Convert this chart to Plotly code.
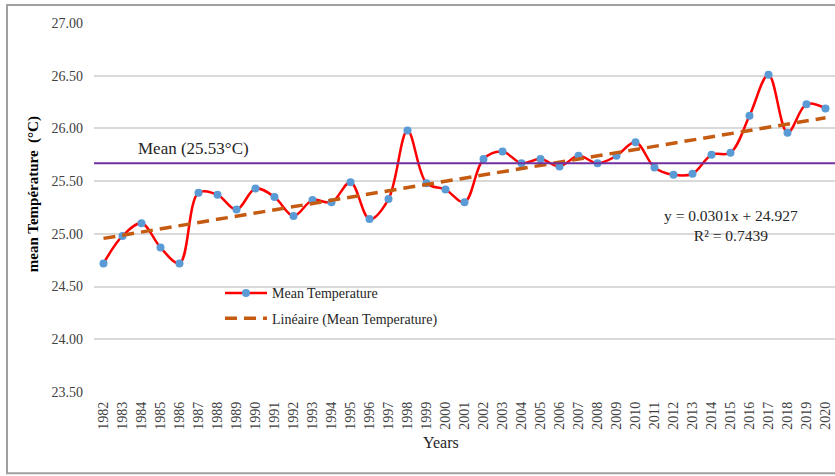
import plotly.graph_objects as go

# ---- data ----
years = [str(y) for y in range(1982, 2021)]
mean_temp = [24.72, 24.98, 25.10, 24.87, 24.72, 25.39, 25.37, 25.23, 25.43, 25.35,
             25.17, 25.32, 25.30, 25.49, 25.14, 25.33, 25.98, 25.48, 25.42, 25.30,
             25.71, 25.78, 25.67, 25.71, 25.64, 25.74, 25.67, 25.74, 25.87, 25.63,
             25.56, 25.57, 25.75, 25.77, 26.12, 26.51, 25.96, 26.23, 26.19]
trend_slope = 0.0301
trend_intercept = 24.927
r_squared = 0.7439
mean_line_value = 25.67
mean_label = "Mean (25.53°C)"
y_ticks = [23.5, 24.0, 24.5, 25.0, 25.5, 26.0, 26.5, 27.0]

trend = [trend_slope * (i + 1) + trend_intercept for i in range(len(years))]

FONT = "Liberation Serif, Times New Roman, serif"

fig = go.Figure()
fig.add_trace(go.Scatter(
    x=years, y=mean_temp, mode="lines+markers", name="Mean Temperature",
    line=dict(color="#FF0000", width=2.5, shape="spline", smoothing=1.0),
    marker=dict(color="#5B9BD5", size=8), legendgroup="a"))
fig.add_trace(go.Scatter(
    x=years, y=trend, mode="lines", name="Linéaire (Mean Temperature)",
    line=dict(color="#C55A11", width=3.5, dash="12px,7px"), legendgroup="b"))

fig.add_shape(type="line", xref="paper", yref="y", x0=0, x1=1,
              y0=mean_line_value, y1=mean_line_value,
              line=dict(color="#7030A0", width=2))
# outer chart border
fig.add_shape(type="rect", xref="paper", yref="paper",
              x0=(7 - 94) / 741, x1=1.05, y0=-0.22, y1=1.049,
              line=dict(color="#A0A0A0", width=2), layer="below")

fig.add_annotation(xref="paper", yref="y", x=(193 - 94) / 741, y=mean_line_value, yshift=15,
                   xanchor="center", yanchor="middle",
                   text=mean_label, showarrow=False,
                   font=dict(family=FONT, size=17, color="#262626"))
fig.add_annotation(xref="paper", yref="y", x=(731 - 94) / 741, y=25.08,
                   xanchor="center", yanchor="middle",
                   text="y = %.4fx + %.3f<br>R² = %.4f" % (trend_slope, trend_intercept, r_squared),
                   showarrow=False, align="center",
                   font=dict(family=FONT, size=15.5, color="#262626"))
fig.add_annotation(xref="paper", yref="paper", x=(441 - 94) / 741, y=-0.136,
                   xanchor="center", yanchor="middle",
                   text="Years", showarrow=False,
                   font=dict(family=FONT, size=16, color="#262626"))
fig.add_annotation(xref="paper", yref="paper", x=(33 - 94) / 741, y=0.536,
                   xanchor="center", yanchor="middle",
                   text="<b>mean Température  (°C)</b>", showarrow=False, textangle=-90,
                   font=dict(family=FONT, size=15, color="#000000"))

fig.update_layout(
    width=835, height=476,
    margin=dict(l=94, r=0, t=23, b=84),
    paper_bgcolor="white", plot_bgcolor="white",
    font=dict(family=FONT, size=14, color="#404040"),
    showlegend=True,
    legend=dict(x=(220 - 94) / 741, y=0.3105, xanchor="left", yanchor="top",
                bgcolor="rgba(0,0,0,0)", itemwidth=42, tracegroupgap=4,
                font=dict(family=FONT, size=14, color="#262626")),
    xaxis=dict(type="category", range=[-0.5, 38.5], tickangle=-90,
               showgrid=False, showline=False, zeroline=False, ticks="",
               ticklabelstandoff=6,
               tickfont=dict(family=FONT, size=14, color="#404040")),
    yaxis=dict(range=[23.5, 27.0], tickvals=y_ticks, tickformat=".2f",
               showgrid=True, gridcolor="#D9D9D9", gridwidth=1.5,
               zeroline=False, showline=False, ticks="", ticklabelstandoff=10,
               tickfont=dict(family=FONT, size=14, color="#404040")),
)

fig.write_html("out.html")
